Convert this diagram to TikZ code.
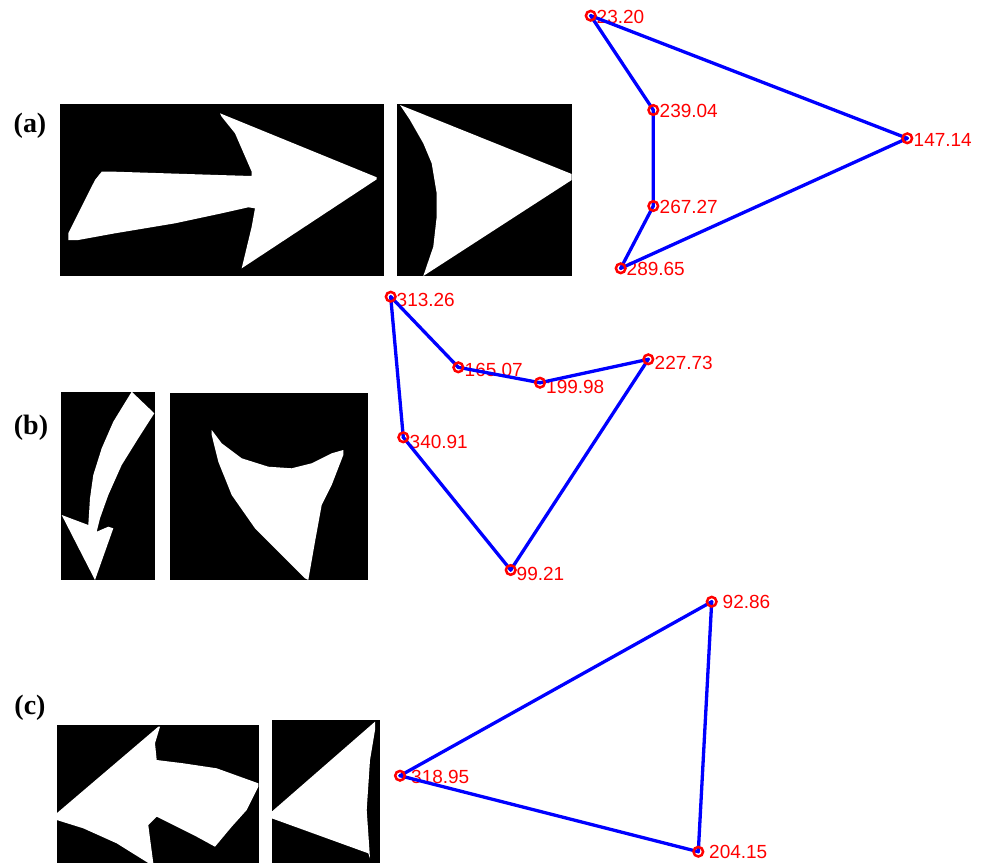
\documentclass[tikz,border=0pt]{standalone}
\usepackage{fontspec}
\setmainfont{Liberation Serif}
\newfontfamily\numfont{Liberation Sans}
\begin{document}
\begin{tikzpicture}[x=1pt,y=-1pt,
  blk/.style={fill=black,draw=none},
  wht/.style={fill=white,draw=none},
  edge/.style={draw=blue,line width=3.3pt,line join=round,line cap=round},
  ring/.style={draw=red,line width=2.5pt,fill=none},
  lbl/.style={anchor=west,inner sep=0pt,text=red,font=\numfont\fontsize{19}{19}\selectfont},
  tag/.style={inner sep=0pt,font=\bfseries\fontsize{28}{28}\selectfont}]
\useasboundingbox (0,0) rectangle (986,863);

% panel tags
\node[tag] (ta) at (30,126) {(a)};
\node[tag] (tb) at (31,428) {(b)};
\node[tag] (tc) at (30,707.5) {(c)};

% ---------- panel (a) images
\fill[blk] (60,104) rectangle (383.5,276);
\fill[wht] (68.3,233.3) -- (68.3,240) -- (78.3,240) -- (115,233.3) -- (175,223.3) -- (221.7,213.3)
  -- (248.3,207.3) -- (255,208.3) -- (251.7,226.7) -- (241.7,268.3) -- (376.7,179.3) -- (376.7,177.3)
  -- (220,113.3) -- (221.7,116.7) -- (235,133.3) -- (251.7,171.7) -- (251.7,176) -- (218.3,175)
  -- (115,171.7) -- (101.7,171.7) -- (95,180) -- cycle;
\fill[blk] (396.7,104) rectangle (571.7,276);
\fill[wht] (400,105) -- (571.7,174) -- (571.7,180) -- (423.3,276) -- (433.3,246.7) -- (436.7,216.7)
  -- (436.7,193.3) -- (431.7,163.3) -- (423.3,143.3) -- (410,120) -- cycle;

% ---------- panel (b) images
\fill[blk] (61,392) rectangle (155,580);
\fill[wht] (131.7,391.7) -- (154.3,413.3) -- (138.3,438.3) -- (121.7,465) -- (108.3,495) -- (100,518.3)
  -- (96.7,531.7) -- (108.3,526.7) -- (113.3,528.3) -- (95,580) -- (61.7,515) -- (75,520) -- (88.3,525)
  -- (90,498.3) -- (93.3,475) -- (101.7,448.3) -- (113.3,421.7) -- cycle;
\fill[blk] (170,393) rectangle (368,580);
\fill[wht] (211.7,430) -- (221.7,443.3) -- (241.7,458.3) -- (268.3,466.7) -- (291.7,468.3) -- (311.7,463.3)
  -- (331.7,453.3) -- (343.3,450) -- (343.3,455) -- (331.7,485) -- (321.7,505) -- (315,541.7)
  -- (308.3,580) -- (305,578.3) -- (255,528.3) -- (231.7,495) -- (218.3,461.7) -- (211.7,435) -- cycle;

% ---------- panel (c) images
\fill[blk] (57,725) rectangle (259,863);
\fill[wht] (56.7,813.3) -- (158.3,726.7) -- (160,726.7) -- (155,743.3) -- (156.7,760) -- (183.3,763.3)
  -- (216.7,768.3) -- (240,776.7) -- (258.3,783.3) -- (258.3,786.7) -- (246.7,810) -- (231.7,826.7)
  -- (215,846.7) -- (196.7,836.7) -- (176.7,826.7) -- (156.7,816.7) -- (148.3,825) -- (150,838.3)
  -- (153.3,863) -- (148.3,863) -- (116.7,843.3) -- (83.3,828.3) -- (56.7,820) -- cycle;
\fill[blk] (272,720) rectangle (380,863);
\fill[wht] (271.7,811.7) -- (375,721.7) -- (375,730) -- (370,760) -- (366.7,810) -- (370,858.3)
  -- (368.3,853.3) -- (271.7,818.3) -- cycle;

% ---------- polygon (a)
\coordinate (a1) at (590.7,15.7);
\coordinate (a2) at (653.3,110);
\coordinate (a3) at (653.3,206);
\coordinate (a4) at (620.7,268.3);
\coordinate (a5) at (907.3,138.3);
\node[lbl] (la1) at (596.5,16.5) {23.20};
\node[lbl] (la2) at (659.5,110.5) {239.04};
\node[lbl] (la3) at (659.5,206.5) {267.27};
\node[lbl] (la4) at (626.5,268.5) {289.65};
\node[lbl] (la5) at (913.5,140) {147.14};
\draw[edge] (a1) -- (a2) -- (a3) -- (a4) -- (a5) -- cycle;

% ---------- polygon (b)
\coordinate (b1) at (390.7,296.7);
\coordinate (b2) at (458.3,367.3);
\coordinate (b3) at (540,382.7);
\coordinate (b4) at (648.3,359.3);
\coordinate (b5) at (510.7,570);
\coordinate (b6) at (403.3,437.3);
\node[lbl] (lb1) at (396.5,299.5) {313.26};
\node[lbl] (lb2) at (464.5,370) {165.07};
\node[lbl] (lb3) at (546,386.5) {199.98};
\node[lbl] (lb4) at (654.5,363) {227.73};
\node[lbl] (lb5) at (516.5,573.5) {99.21};
\node[lbl] (lb6) at (409.5,441.5) {340.91};
\draw[edge] (b1) -- (b2) -- (b3) -- (b4) -- (b5) -- (b6) -- cycle;

% ---------- polygon (c)
\coordinate (c1) at (711.7,601.7);
\coordinate (c2) at (400,775.7);
\coordinate (c3) at (698.3,851.7);
\node[lbl] (lc1) at (722.5,602) {92.86};
\node[lbl] (lc2) at (411,776.5) {318.95};
\node[lbl] (lc3) at (709,852) {204.15};
\draw[edge] (c1) -- (c2) -- (c3) -- cycle;

% ---------- markers
\foreach \p in {a1,a2,a3,a4,a5,b1,b2,b3,b4,b5,b6,c1,c2,c3}{
  \fill[blue] (\p) circle (1.8);
  \draw[ring] (\p) circle (4.8);
}
\end{tikzpicture}
\end{document}
